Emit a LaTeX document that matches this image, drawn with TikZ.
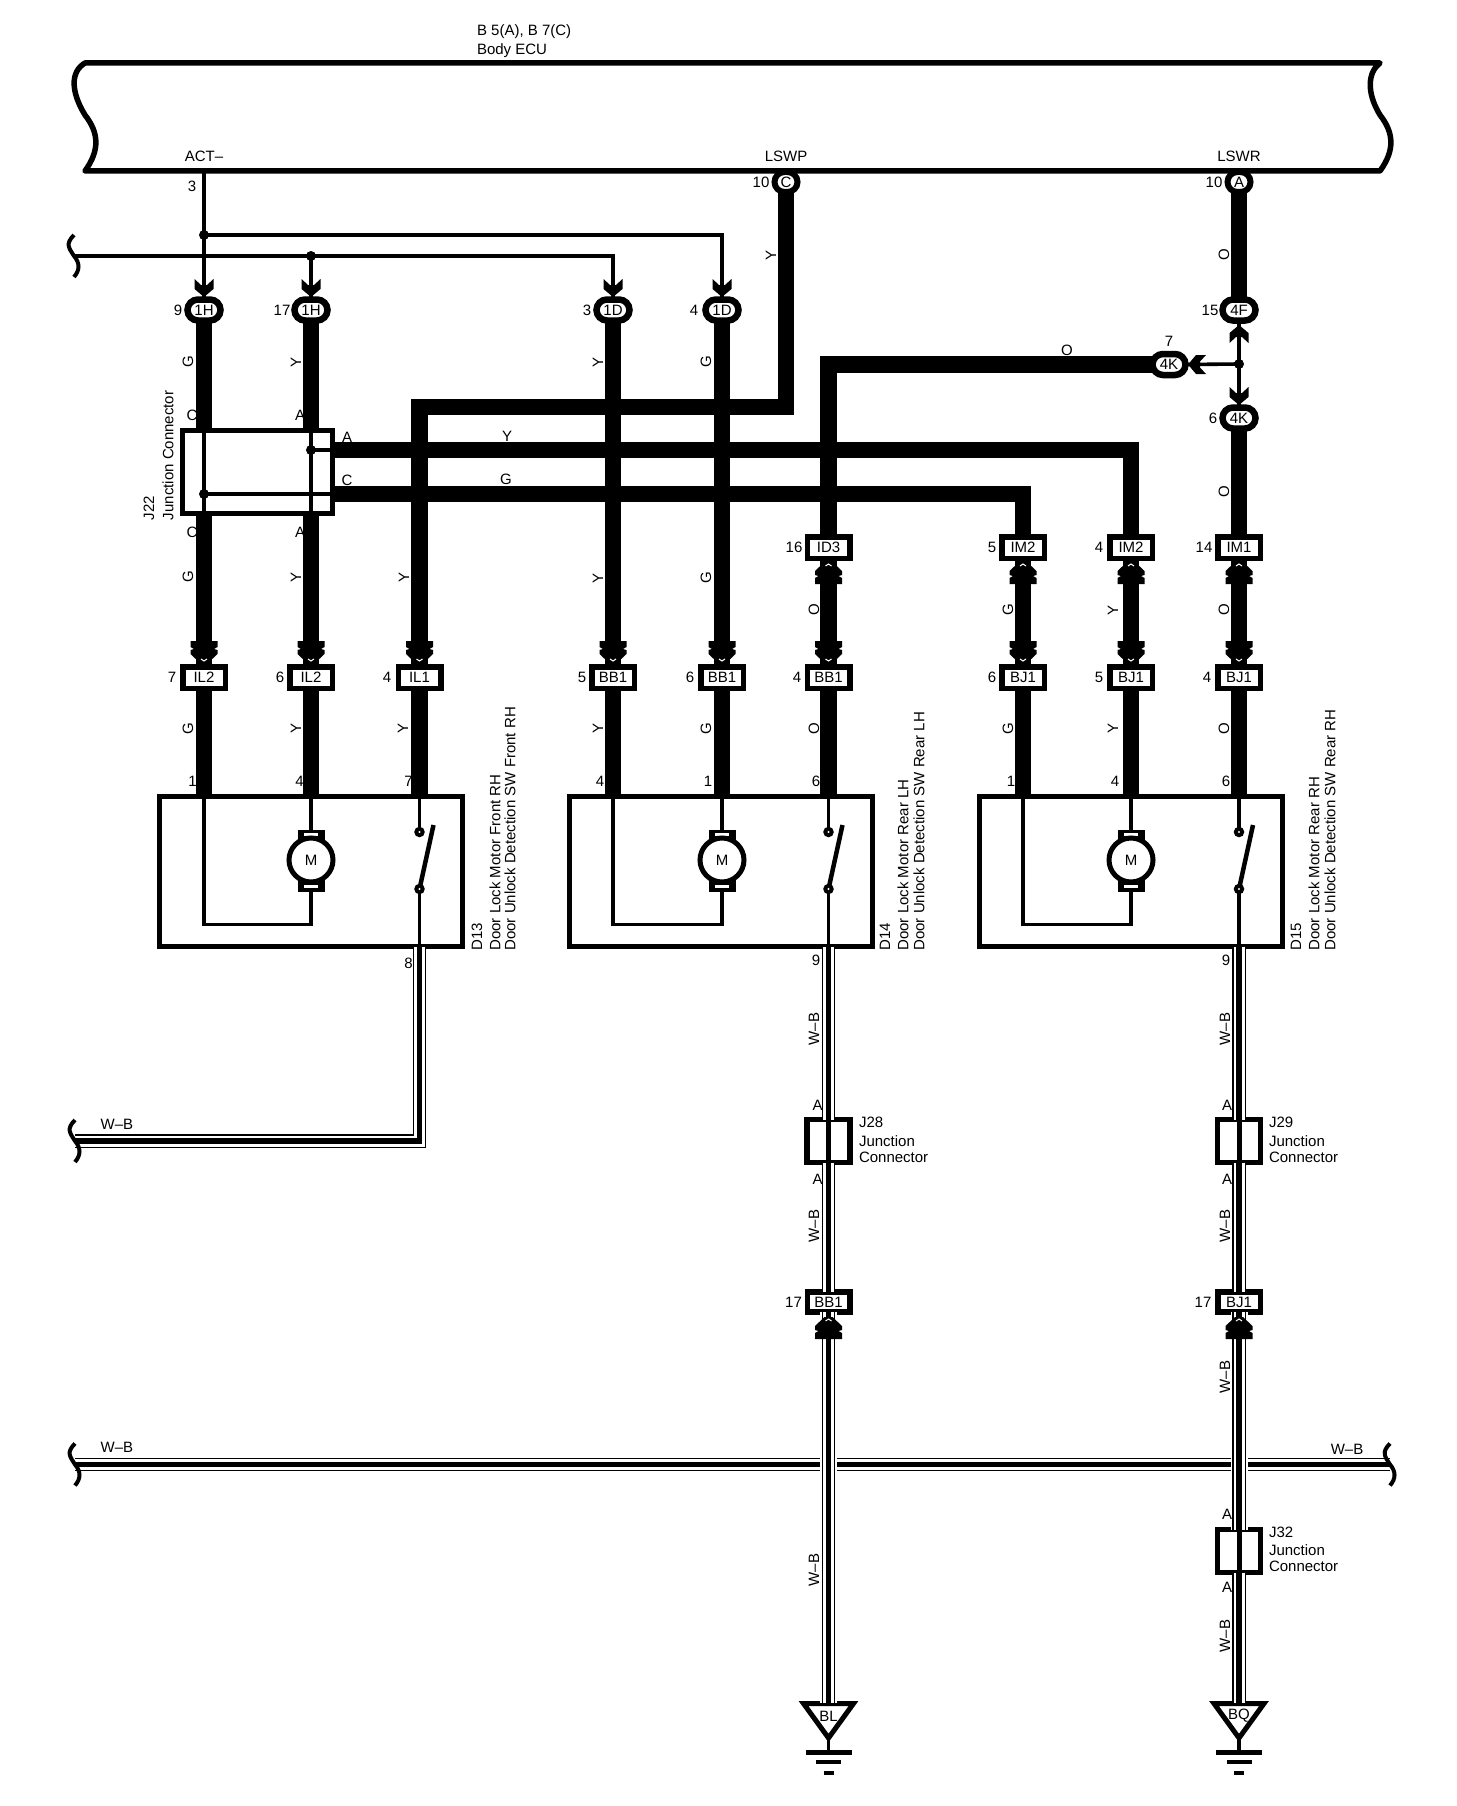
\documentclass[tikz,border=0pt]{standalone}
\usepackage{fontspec}
\setmainfont{Liberation Sans}
\usetikzlibrary{calc}
\newcounter{lb}
\tikzset{
  txt/.style={font=\fontsize{15}{16}\selectfont,inner sep=0pt,outer sep=0pt,text=black},
  conn/.style={txt,draw,fill=white,line width=5.5pt,minimum width=42.5pt,minimum height=21.5pt,outer sep=0pt},
  ovalc/.style={txt,draw,fill=white,line width=6.5pt,minimum width=33pt,minimum height=21pt,rounded corners=10.5pt,outer sep=0pt},
  pinc/.style={txt,draw,fill=white,line width=6pt,minimum width=23pt,minimum height=20pt,rounded corners=10pt,outer sep=0pt},
  devbox/.style={draw,fill=white,line width=5pt,minimum height=150pt,inner sep=0pt,outer sep=0pt},
  jbox/.style={draw,fill=white,line width=5.5pt,minimum width=43pt,minimum height=43pt,inner sep=0pt,outer sep=0pt},
  thickw/.style={line width=16.5pt,line cap=butt},
  thinw/.style={line width=3.6pt},
}
\newcommand\lab[4][center]{\stepcounter{lb}\node[txt,anchor=#1] (lab\thelb) at (#2,#3) {#4};}
\newcommand\vlab[4][center]{\stepcounter{lb}\node[txt,rotate=90,anchor=#1] (lab\thelb) at (#2,#3) {#4};}
\newcommand\chev[3]{\begin{scope}[shift={(#1,#2)},rotate=#3]
  \fill (4,0)--(13.5,-9)--(13.5,-13)--(10,-14)--(13.5,-16)--(13.5,-22)--(-13.5,-22)--(-13.5,-16)--(-10,-14)--(-13.5,-13)--(-13.5,-9)--(-4,0)--cycle;
  \draw[white,line width=1pt] (-3,-4)--(0,-2)--(3,-4);
\end{scope}}
\newcommand\tarr[3]{\fill[shift={(#1,#2)},rotate=#3] (0,0)--(9.5,-8)--(9.5,-18)--(3,-12)--(-3,-12)--(-9.5,-18)--(-9.5,-8)--cycle;}
\newcommand\tripl[1]{\draw[line width=13.5pt] #1; \draw[white,line width=11pt] #1; \draw[line width=5.5pt] #1;}
\newcommand\halo[1]{\draw[white,line width=17pt] #1;}
\newcommand\brk[2]{\draw[line width=4pt] (#1,#2-21) .. controls (#1-9,#2-12) and (#1-5,#2-8) .. (#1,#2) .. controls (#1+6,#2+7) and (#1+6,#2+14) .. (#1,#2+21);}
\newcommand\dotj[2]{\fill (#1,#2) circle (5pt);}
% device interior: xl, xm, xs
\newcommand\devin[3]{%
  \draw[thinw] (#1,796.5) |- (#2,924.5) -- (#2,890);
  \draw[thinw] (#2,796.5) -- (#2,832);
  \fill (#2-13.5,830) rectangle (#2+13.5,846);
  \fill (#2-13.5,874) rectangle (#2+13.5,892);
  \fill[white] (#2-7,833) rectangle (#2+7,835.5);
  \fill[white] (#2-7,885) rectangle (#2+7,887.5);
  \draw[line width=5pt,fill=white] (#2,860) circle (22pt);
  \stepcounter{lb}\node[txt] (motor\thelb) at (#2,860) {M};
  \draw[thinw] (#3,796.5) -- (#3,832);
  \draw[thinw] (#3,889) -- (#3,946.5);
  \draw[line width=4.5pt] (#3,889) -- (#3+14,825);
  \fill (#3,832) circle (5.3pt); \fill (#3,889) circle (5.3pt);
  \fill[white] (#3,832) circle (1.2pt); \fill[white] (#3,889) circle (1.2pt);
}
\newcommand\gnd[2]{%
  \draw[line width=5pt,fill=white] (#1-25,1703.5) -- (#1+25,1703.5) -- (#1,1738) -- cycle;
  \node[txt] (#2) at (#1,1716) {#2};
  \draw[thinw] (#1,1738) -- (#1,1752);
  \draw[line width=5pt] (#1-23,1752) -- (#1+23,1752);
  \draw[line width=3.5pt] (#1-12.5,1762) -- (#1+12.5,1762);
  \draw[line width=3.5pt] (#1-5,1773) -- (#1+5,1773);
}
\begin{document}
\begin{tikzpicture}[x=1pt,y=-1pt]
\useasboundingbox (0,0) rectangle (1456,1806);
\fill[white] (0,0) rectangle (1456,1806);

% Body ECU
\draw[line width=5.5pt,line join=round] (85,63) -- (1380,63) .. controls (1368,72) and (1366,92) .. (1380,115) .. controls (1394,133) and (1395,150) .. (1380,171) -- (85,171) .. controls (100,150) and (99,133) .. (85,115) .. controls (71,92) and (70,72) .. (85,63) -- cycle;
\lab[west]{477}{32}{B 5(A), B 7(C)}
\lab[west]{477}{51}{Body ECU}
\lab{204}{156}{ACT–}
\lab{786}{156}{LSWP}
\lab{1239}{156}{LSWR}
\coordinate (act) at (204,171);
\coordinate (jn1) at (204,235);
\coordinate (jn2) at (311,256);
\coordinate (bk1) at (74,256);
\coordinate (jn3) at (1239,364);
\coordinate (t1) at (786,407);
\coordinate (ja) at (332.5,450);
\coordinate (jc) at (332.5,494);
\coordinate (da) at (311,450);
\coordinate (dc) at (204,494);

% top pins and ovals
\node[pinc] (pa) at (786,182) {C};
\node[pinc] (pb) at (1239,182) {A};
\node[ovalc] (oa) at (204,310) {1H};
\node[ovalc] (ob) at (311,310) {1H};
\node[ovalc] (oc) at (613,310) {1D};
\node[ovalc] (od) at (722,310) {1D};
\node[ovalc] (oe) at (1239,310) {4F};
\node[ovalc] (of) at (1239,418) {4K};
\node[ovalc] (og) at (1169,364.5) {4K};

% J22
\node[draw,fill=white,line width=5pt,minimum width=150pt,minimum height=83pt,inner sep=0pt,outer sep=0pt] (j22) at (257.5,472) {};

% connector rows
\node[conn] (id3) at (828.5,547.5) {ID3};
\node[conn] (im2a) at (1023,547.5) {IM2};
\node[conn] (im2b) at (1131,547.5) {IM2};
\node[conn] (im1) at (1239,547.5) {IM1};
\node[conn] (il2a) at (204,677.5) {IL2};
\node[conn] (il2b) at (311,677.5) {IL2};
\node[conn] (il1) at (419.5,677.5) {IL1};
\node[conn] (bb1a) at (613,677.5) {BB1};
\node[conn] (bb1b) at (722,677.5) {BB1};
\node[conn] (bb1c) at (828.5,677.5) {BB1};
\node[conn] (bj1a) at (1023,677.5) {BJ1};
\node[conn] (bj1b) at (1131,677.5) {BJ1};
\node[conn] (bj1c) at (1239,677.5) {BJ1};

% devices
\node[devbox,minimum width=302.5pt] (d13) at (311,871.5) {};
\node[devbox,minimum width=302.5pt] (d14) at (720.75,871.5) {};
\node[devbox,minimum width=303pt] (d15) at (1131,871.5) {};
\devin{204}{311}{419.5}
\devin{613}{722}{828.5}
\devin{1023}{1131}{1239}

% J boxes, lower connectors
\node[jbox] (j28) at (828.5,1141) {};
\node[jbox] (j29) at (1239,1141) {};
\node[jbox] (j32) at (1239,1551) {};
\node[conn,minimum height=20pt] (bb1d) at (828.5,1302) {BB1};
\node[conn,minimum height=20pt] (bj1d) at (1239,1302) {BJ1};

% thin wires at the top
\draw[thinw] (act) -- (oa.north);
\draw[thinw] (jn1) -| (od.north);
\draw[thinw] (bk1) -| (oc.north);
\draw[thinw] (jn2) -- (ob.north);
\dotj{204}{235}
\dotj{311}{256}
\brk{74}{256}
\tarr{204}{297}{0}
\tarr{311}{297}{0}
\tarr{613}{297}{0}
\tarr{722}{297}{0}

% right-hand splice
\draw[thinw] (oe.south) -- (of.north);
\draw[thinw] (jn3) -- (og.east);
\dotj{1239}{364}
\tarr{1239}{325}{180}
\tarr{1239}{405}{0}
\tarr{1188}{364.5}{-90}

% J22 interior
\draw[thinw] (oa.south |- j22.north) -- (oa.south |- j22.south);
\draw[thinw] (ob.south |- j22.north) -- (ob.south |- j22.south);
\draw[thinw] (da) -- (ja);
\draw[thinw] (dc) -- (jc);
\dotj{311}{450}
\dotj{204}{494}

% thick wires
\draw[thickw] (oa.south) -- (oa.south |- j22.north);
\draw[thickw] (ob.south) -- (ob.south |- j22.north);
\draw[thickw] (oa.south |- j22.south) -- (il2a.north);
\draw[thickw] (ob.south |- j22.south) -- (il2b.north);
\draw[thickw] (pa.south) |- (il1.north |- t1) -- (il1.north);
\draw[thickw] (oc.south) -- (bb1a.north);
\draw[thickw] (od.south) -- (bb1b.north);
\draw[thickw] (og.west) -| (id3.north);
\draw[thickw] (ja) -| (im2b.north);
\draw[thickw] (jc) -| (im2a.north);
\draw[thickw] (pb.south) -- (oe.north);
\draw[thickw] (of.south) -- (im1.north);
\draw[thickw] (id3.south) -- (bb1c.north);
\draw[thickw] (im2a.south) -- (bj1a.north);
\draw[thickw] (im2b.south) -- (bj1b.north);
\draw[thickw] (im1.south) -- (bj1c.north);
\draw[thickw] (il2a.south) -- (il2a.south |- d13.north);
\draw[thickw] (il2b.south) -- (il2b.south |- d13.north);
\draw[thickw] (il1.south) -- (il1.south |- d13.north);
\draw[thickw] (bb1a.south) -- (bb1a.south |- d14.north);
\draw[thickw] (bb1b.south) -- (bb1b.south |- d14.north);
\draw[thickw] (bb1c.south) -- (bb1c.south |- d14.north);
\draw[thickw] (bj1a.south) -- (bj1a.south |- d15.north);
\draw[thickw] (bj1b.south) -- (bj1b.south |- d15.north);
\draw[thickw] (bj1c.south) -- (bj1c.south |- d15.north);

% thick arrowheads
\chev{204}{663}{0}
\chev{311}{663}{0}
\chev{419.5}{663}{0}
\chev{613}{663}{0}
\chev{722}{663}{0}
\chev{828.5}{663}{0}
\chev{1023}{663}{0}
\chev{1131}{663}{0}
\chev{1239}{663}{0}
\chev{828.5}{562}{180}
\chev{1023}{562}{180}
\chev{1131}{562}{180}
\chev{1239}{562}{180}

% W-B wires
\coordinate (bk2) at (75,1141);
\coordinate (bk3) at (75,1464.5);
\coordinate (bk4) at (1390,1464.5);
\coordinate (gl) at (828.5,1703);
\coordinate (gq) at (1239,1703);
\tripl{(il1.south |- d13.south) |- (bk2)}
\brk{75}{1141}
\tripl{(bk3) -- (bk4)}
\brk{75}{1464.5}
\brk{1390}{1464.5}
\gnd{828.5}{BL}
\gnd{1239}{BQ}
\tripl{(bb1c.south |- d14.south) -- (j28.north)}
\draw[line width=5pt] (j28.north) -- (j28.south);
\tripl{(j28.south) -- (bb1d.north)}
\halo{(bb1d.south) -- (gl)}
\tripl{(bb1d.south) -- (gl)}
\tripl{(bj1c.south |- d15.south) -- (j29.north)}
\draw[line width=5pt] (j29.north) -- (j29.south);
\tripl{(j29.south) -- (bj1d.north)}
\halo{(bj1d.south) -- (j32.north)}
\tripl{(bj1d.south) -- (j32.north)}
\draw[line width=5pt] (j32.north) -- (j32.south);
\tripl{(j32.south) -- (gq)}
\chev{828.5}{1317}{180}
\chev{1239}{1317}{180}

% pin numbers
\lab{192}{186}{3}
\lab{178}{310}{9}
\lab{282}{310}{17}
\lab{587}{310}{3}
\lab{694}{310}{4}
\lab{761}{182}{10}
\lab{1214}{182}{10}
\lab{1210}{310}{15}
\lab{1213}{418}{6}
\lab{1169}{341}{7}
\lab{794}{547}{16}
\lab{992}{547}{5}
\lab{1099}{547}{4}
\lab{1204}{547}{14}
\lab{172}{677}{7}
\lab{280}{677}{6}
\lab{387}{677}{4}
\lab{582}{677}{5}
\lab{690}{677}{6}
\lab{797}{677}{4}
\lab{992}{677}{6}
\lab{1099}{677}{5}
\lab{1207}{677}{4}
\lab{192.5}{781}{1}
\lab{299.6}{781}{4}
\lab{408.5}{781}{7}
\lab{600}{781}{4}
\lab{708}{781}{1}
\lab{816}{781}{6}
\lab{1011}{781}{1}
\lab{1115}{781}{4}
\lab{1226}{781}{6}
\lab{408.5}{963}{8}
\lab{816}{960}{9}
\lab{1226}{960}{9}
\lab{793.5}{1302}{17}
\lab{1203}{1302}{17}

% J22 labels
\lab{192}{415}{C}
\lab{300}{415}{A}
\lab{192}{532}{C}
\lab{300}{532}{A}
\lab{347}{437}{A}
\lab{347}{480}{C}
\vlab[west]{149}{520}{J22}
\vlab[west]{168}{520}{Junction Connector}

% wire colour labels
\vlab{188}{362}{G}
\vlab{296}{362}{Y}
\vlab{598}{362}{Y}
\vlab{706}{362}{G}
\vlab{771}{255}{Y}
\vlab{1224}{255}{O}
\vlab{1224}{492}{O}
\lab{1067}{350}{O}
\lab{507}{436}{Y}
\lab{506}{479}{G}
\vlab{188}{577}{G}
\vlab{296}{577}{Y}
\vlab{404}{577}{Y}
\vlab{598}{578}{Y}
\vlab{706}{578}{G}
\vlab{814}{610}{O}
\vlab{1008}{610}{G}
\vlab{1113}{610}{Y}
\vlab{1224}{610}{O}
\vlab{188}{728.5}{G}
\vlab{296}{728.5}{Y}
\vlab{403}{728.5}{Y}
\vlab{598}{728.5}{Y}
\vlab{706}{728.5}{G}
\vlab{814}{728.5}{O}
\vlab{1008}{728.5}{G}
\vlab{1113}{728.5}{Y}
\vlab{1224}{728.5}{O}

% device labels
\vlab[west]{477}{950.5}{D13}
\vlab[west]{495}{950.5}{Door Lock Motor Front RH}
\vlab[west]{510}{950.5}{Door Unlock Detection SW Front RH}
\vlab[west]{885}{950.5}{D14}
\vlab[west]{903}{950.5}{Door Lock Motor Rear LH}
\vlab[west]{919}{950.5}{Door Unlock Detection SW Rear LH}
\vlab[west]{1296}{950.5}{D15}
\vlab[west]{1314}{950.5}{Door Lock Motor Rear RH}
\vlab[west]{1330}{950.5}{Door Unlock Detection SW Rear RH}

% W-B labels
\lab{117}{1124}{W–B}
\lab{117}{1447}{W–B}
\lab{1347}{1449}{W–B}
\vlab{814}{1029}{W–B}
\vlab{1225}{1029}{W–B}
\vlab{814}{1226}{W–B}
\vlab{1225}{1226}{W–B}
\vlab{1225}{1377}{W–B}
\vlab{814}{1570}{W–B}
\vlab{1225}{1636}{W–B}

% junction labels
\lab{817.5}{1105}{A}
\lab{817.5}{1179}{A}
\lab{1227}{1105}{A}
\lab{1227}{1179}{A}
\lab{1227}{1514}{A}
\lab{1227}{1587}{A}
\lab[west]{859}{1122}{J28}
\lab[west]{859}{1141.5}{Junction}
\lab[west]{859}{1157}{Connector}
\lab[west]{1269}{1122}{J29}
\lab[west]{1269}{1141.5}{Junction}
\lab[west]{1269}{1157}{Connector}
\lab[west]{1269}{1532}{J32}
\lab[west]{1269}{1550}{Junction}
\lab[west]{1269}{1566}{Connector}
\end{tikzpicture}
\end{document}
